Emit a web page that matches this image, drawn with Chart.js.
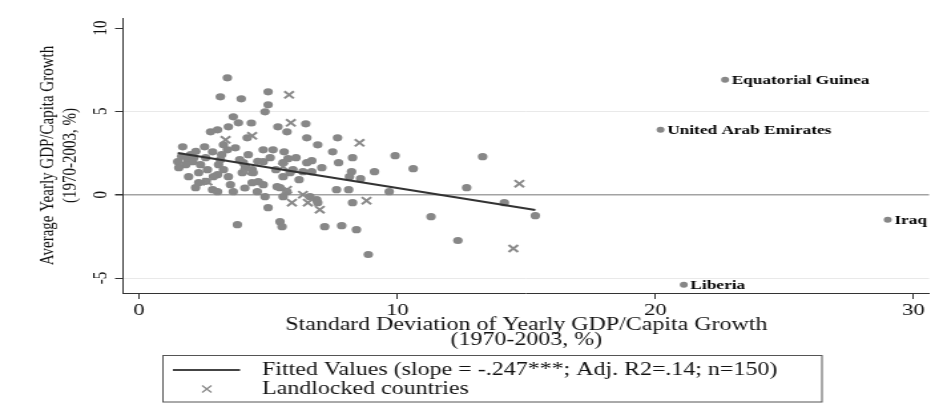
<!DOCTYPE html>
<html>
<head>
<meta charset="utf-8">
<script src="https://cdn.jsdelivr.net/npm/chart.js@4.4.1/dist/chart.umd.min.js"></script>
<style>
  html, body { margin: 0; padding: 0; background: #fff; overflow: hidden; }
  /* the original export is stretched sideways, so draw narrow and widen */
  #wrap { width: 709px; height: 408px; transform: scaleX(1.33); transform-origin: 0 0; }
</style>
</head>
<body>
<div id="wrap"><canvas id="chart" width="709" height="408"></canvas></div>
<script>
// std. dev. of yearly GDP/capita growth (x) and average growth (y), non-landlocked
const sdGrowth = [
  3.42, 3.15, 3.96, 5.00, 5.00, 4.88, 3.65, 3.85, 4.35, 3.46,
  3.04, 2.77, 5.38, 5.73, 6.46, 6.50, 6.92, 7.69, 1.69, 2.54,
  3.27, 3.42, 3.73, 4.19, 4.23, 4.81, 5.19, 5.62, 5.08, 5.77,
  6.69, 7.50, 7.73, 8.27, 2.00, 1.50, 1.88, 2.12, 1.81, 2.08,
  1.54, 1.92, 2.31, 2.31, 2.85, 3.04, 3.08, 3.15, 3.27, 3.46,
  3.54, 3.65, 4.00, 4.12, 4.38, 4.38, 4.04, 4.42, 4.81, 4.58,
  4.88, 5.00, 4.81, 5.58, 5.85, 5.58, 5.46, 5.73, 6.88, 7.08,
  6.50, 6.35, 6.69, 7.65, 8.12, 8.15, 8.23, 8.58, 9.12, 9.69,
  9.92, 10.62, 13.31, 12.69, 14.15, 15.35, 11.31, 12.35, 8.88, 7.85,
  8.42, 7.19, 8.27, 6.92, 6.62, 5.46, 5.54, 3.81, 5.58, 4.62,
  5.35, 5.96, 3.04, 2.58, 2.85, 2.38, 2.65, 2.88, 2.19, 6.08,
  1.65, 2.20, 3.90, 4.60, 5.30, 6.20, 4.10, 2.60, 3.20
];
const avgGrowth = [
  7.01, 5.87, 5.75, 6.17, 5.39, 4.97, 4.67, 4.31, 4.30, 4.07,
  3.89, 3.77, 4.07, 3.77, 4.25, 3.41, 2.99, 3.41, 2.87, 2.87,
  2.99, 2.69, 2.81, 3.41, 2.40, 2.69, 2.69, 2.57, 2.22, 2.16,
  2.04, 2.57, 1.92, 2.22, 2.40, 1.98, 2.10, 2.22, 1.80, 1.98,
  1.62, 1.08, 1.32, 0.72, 0.30, 0.18, 1.80, 2.10, 1.50, 1.08,
  0.60, 0.18, 1.32, 1.68, 1.50, 0.72, 1.92, 1.32, 0.60, 0.18,
  -0.12, -0.78, 1.98, 1.92, 1.32, 1.08, 0.42, 0.18, -0.30, 1.62,
  1.92, 1.38, 1.38, 0.30, 0.30, 1.08, 1.38, 0.96, 1.38, 0.18,
  2.34, 1.56, 2.28, 0.42, -0.48, -1.26, -1.32, -2.75, -3.59, -1.86,
  -2.10, -1.92, -0.48, -0.48, -0.12, -1.62, -1.92, -1.80, -0.12, 0.78,
  0.48, 1.50, 1.20, 2.22, 2.57, 1.80, 1.50, 1.08, 0.42, 2.22,
  2.30, 2.60, 2.10, 2.00, 1.50, 0.90, 0.40, 0.80, 2.40
];

// landlocked countries
const landSd  = [5.81, 5.88, 4.38, 3.35, 8.54, 14.73, 14.50, 2.65, 5.92, 6.35, 6.54, 7.00, 8.81, 4.12, 5.58, 5.73];
const landAvg = [5.99, 4.31, 3.53, 3.29, 3.11, 0.66, -3.23, 0.78, -0.48, 0.00, -0.48, -0.90, -0.36, 1.38, 1.68, 0.30];

// labelled outliers
const outlierNames = ['Equatorial Guinea', 'United Arab Emirates', 'Iraq', 'Liberia'];
const outlierSd    = [22.7, 20.2, 29.0, 21.1];
const outlierAvg   = [6.9, 3.9, -1.5, -5.4];

// fitted line end points
const fitSd  = [1.5, 15.35];
const fitAvg = [2.5, -0.92];

const xTicks = [0, 10, 20, 30];
const yTicks = [-5, 0, 5, 10];

const xTitle = ['Standard Deviation of Yearly GDP/Capita Growth', '(1970-2003, %)'];
const yTitle = ['Average Yearly GDP/Capita Growth', '(1970-2003, %)'];
const legendLabels = ['Fitted Values (slope = -.247***; Adj. R2=.14; n=150)', 'Landlocked countries'];

const SERIF = "'Liberation Serif', 'Times New Roman', serif";
const pts = (xs, ys) => xs.map((x, i) => ({ x: x, y: ys[i] }));

// texts drawn on top: rotated y ticks, axis titles, country names, legend box
const textPlugin = {
  id: 'texts',
  afterDraw(chart) {
    const ctx = chart.ctx;
    const xs = chart.scales.x, ys = chart.scales.y;
    const area = chart.chartArea;
    ctx.save();
    ctx.fillStyle = '#111';
    ctx.textBaseline = 'middle';

    // y tick labels, reading upwards
    ctx.font = '15px ' + SERIF;
    ctx.textAlign = 'center';
    yTicks.forEach(v => {
      ctx.save();
      ctx.translate(76, ys.getPixelForValue(v));
      ctx.rotate(-Math.PI / 2);
      ctx.fillText(String(v), 0, 0);
      ctx.restore();
    });

    // y title
    ctx.font = '15px ' + SERIF;
    const midY = (area.top + area.bottom) / 2;
    [36, 53].forEach((px, i) => {
      ctx.save();
      ctx.translate(px, midY);
      ctx.rotate(-Math.PI / 2);
      ctx.fillText(yTitle[i], 0, 0);
      ctx.restore();
    });

    // x title
    ctx.font = '18px ' + SERIF;
    const midX = (xs.getPixelForValue(0) + xs.getPixelForValue(30)) / 2;
    ctx.fillText(xTitle[0], midX, 325);
    ctx.fillText(xTitle[1], midX, 340);

    // country names
    ctx.font = 'bold 13px ' + SERIF;
    ctx.textAlign = 'left';
    ctx.fillStyle = '#000';
    outlierNames.forEach((name, i) => {
      ctx.fillText(name, xs.getPixelForValue(outlierSd[i]) + 5, ys.getPixelForValue(outlierAvg[i]) + 1);
    });

    // legend
    ctx.strokeStyle = '#555';
    ctx.lineWidth = 1;
    ctx.strokeRect(122.5, 355.5, 495.5, 46.5);
    ctx.strokeStyle = '#444';
    ctx.lineWidth = 2;
    ctx.beginPath();
    ctx.moveTo(130, 370);
    ctx.lineTo(180.5, 370);
    ctx.stroke();
    ctx.strokeStyle = '#888';
    ctx.lineWidth = 1.2;
    ctx.beginPath();
    ctx.moveTo(152, 385.5); ctx.lineTo(159, 392.5);
    ctx.moveTo(159, 385.5); ctx.lineTo(152, 392.5);
    ctx.stroke();
    ctx.fillStyle = '#111';
    ctx.font = '18px ' + SERIF;
    ctx.fillText(legendLabels[0], 197, 370);
    ctx.fillText(legendLabels[1], 197, 389);
    ctx.restore();
  }
};

const ctx = document.getElementById('chart').getContext('2d');
new Chart(ctx, {
  type: 'scatter',
  data: {
    datasets: [
      {
        type: 'line',
        label: 'Fitted Values',
        data: pts(fitSd, fitAvg),
        borderColor: '#333',
        borderWidth: 2,
        pointRadius: 0,
        fill: false,
        order: 0
      },
      {
        label: 'Landlocked countries',
        data: pts(landSd, landAvg),
        pointStyle: 'crossRot',
        pointRadius: 5,
        borderColor: '#8a8a8a',
        borderWidth: 2,
        order: 1
      },
      {
        label: 'Countries',
        data: pts(sdGrowth, avgGrowth),
        pointStyle: 'circle',
        pointRadius: 3.6,
        backgroundColor: '#878787',
        borderWidth: 0,
        order: 2
      },
      {
        label: 'Outliers',
        data: pts(outlierSd, outlierAvg),
        pointStyle: 'circle',
        pointRadius: 3,
        backgroundColor: '#878787',
        borderWidth: 0,
        order: 2
      }
    ]
  },
  options: {
    responsive: false,
    animation: false,
    devicePixelRatio: 1,
    layout: { padding: { top: 18, right: 10.5, left: 0, bottom: 0 } },
    plugins: { legend: { display: false }, tooltip: { enabled: false } },
    scales: {
      x: {
        type: 'linear',
        min: -0.62,
        max: 30.6,
        afterBuildTicks: s => { s.ticks = xTicks.map(v => ({ value: v })); },
        afterFit: s => { s.height = 115; },
        grid: { drawOnChartArea: false, tickLength: 6, tickColor: '#333', color: '#333' },
        border: { display: true, color: '#333', width: 1 },
        ticks: { font: { family: SERIF, size: 17 }, color: '#111', padding: 1 }
      },
      y: {
        type: 'linear',
        min: -5.9,
        max: 10.6,
        afterBuildTicks: s => { s.ticks = yTicks.map(v => ({ value: v })); },
        afterFit: s => { s.width = 92.5; },
        grid: {
          color: c => c.tick.value === 0 ? '#a3a3a3' : (c.tick.value === 10 ? 'rgba(0,0,0,0)' : '#e9e9e9'),
          lineWidth: c => c.tick.value === 0 ? 1.5 : 1,
          tickLength: 6,
          tickColor: '#333'
        },
        border: { display: true, color: '#333', width: 1 },
        ticks: { display: false }
      }
    }
  },
  plugins: [textPlugin]
});
</script>
</body>
</html>
